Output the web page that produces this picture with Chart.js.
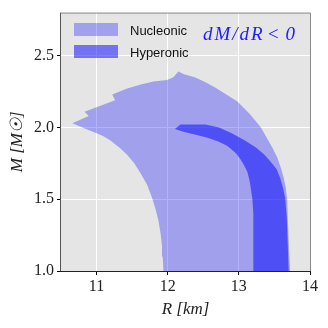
<!DOCTYPE html>
<html>
<head>
<meta charset="utf-8">
<script src="https://cdn.jsdelivr.net/npm/chart.js@4.4.1/dist/chart.umd.min.js"></script>
<style>
  html, body { margin: 0; padding: 0; background: #ffffff; }
  #wrap { position: relative; width: 328px; height: 328px; }
  canvas { position: absolute; left: 0; top: 0; }
  .sw { position: absolute; width: 44px; height: 13px; }
  .lt { position: absolute; font-family: "Liberation Sans", Arial, sans-serif; font-size: 13px; color: #111; line-height: 13px; }
  #ann { position: absolute; font-family: "Liberation Serif", serif; font-style: italic; font-size: 19px; color: #2020ff; line-height: 19px; white-space: pre; }
</style>
</head>
<body>
<div id="wrap">
  <canvas id="c" width="328" height="328"></canvas>
  <div class="sw" style="left:74px;top:23px;background:rgba(0,0,255,0.3)"></div>
  <div class="lt" style="left:130px;top:24px">Nucleonic</div>
  <div class="sw" style="left:74px;top:45px;background:rgba(0,0,255,0.5)"></div>
  <div class="lt" style="left:130px;top:46px">Hyperonic</div>
  <div id="ann" style="left:203px;top:24px"><span style="letter-spacing:2px">dM/dR</span><span style="margin-left:2px">&lt;</span><span style="margin-left:6px">0</span></div>
</div>
<script>
// ---- data ----
const xTicks = [11, 12, 13, 14];
const yTicks = [1.0, 1.5, 2.0, 2.5];

// Nucleonic band outline: inner edge (bottom -> tip), then outer edge (tip -> bottom right)
const nucleonicR = [11.94, 11.93, 11.92, 11.90, 11.87, 11.83, 11.78, 11.71, 11.62, 11.53,
                    11.43, 11.32, 11.19, 11.09, 11.00, 10.85, 10.66,
                    10.89, 10.83, 11.26, 11.22, 11.42, 11.62, 11.80, 11.99, 12.08, 12.15,
                    12.23, 12.38, 12.51, 12.66, 12.79, 12.98, 13.16, 13.31, 13.39, 13.47,
                    13.54, 13.59, 13.63, 13.66, 13.68, 13.69, 13.70, 13.72];
const nucleonicM = [1.00, 1.10, 1.17, 1.26, 1.35, 1.43, 1.51, 1.60, 1.68, 1.75,
                    1.81, 1.86, 1.91, 1.94, 1.96, 1.99, 2.03,
                    2.08, 2.11, 2.19, 2.23, 2.27, 2.30, 2.32, 2.33, 2.35, 2.39,
                    2.37, 2.35, 2.32, 2.28, 2.24, 2.18, 2.09, 2.00, 1.93, 1.86,
                    1.79, 1.72, 1.65, 1.58, 1.49, 1.35, 1.21, 1.00];

// Hyperonic band outline: top edge (tip -> bottom right), then inner edge (bottom -> tip)
const hyperonicR = [12.10, 12.18, 12.35, 12.53, 12.72, 12.90, 13.08, 13.24, 13.36, 13.45,
                    13.53, 13.58, 13.62, 13.65, 13.67, 13.68, 13.69, 13.70,
                    13.21, 13.21, 13.20, 13.20, 13.19, 13.17, 13.15, 13.12, 13.07, 13.02,
                    12.96, 12.84, 12.72, 12.55, 12.38, 12.22, 12.10];
const hyperonicM = [1.99, 2.02, 2.02, 2.02, 2.00, 1.96, 1.91, 1.86, 1.81, 1.76,
                    1.71, 1.65, 1.58, 1.51, 1.40, 1.30, 1.15, 1.00,
                    1.00, 1.15, 1.30, 1.40, 1.50, 1.57, 1.63, 1.69, 1.74, 1.78,
                    1.82, 1.87, 1.90, 1.93, 1.95, 1.97, 1.99];

const toPts = (xs, ys) => xs.map((x, i) => ({ x: x, y: ys[i] }));

const bgPlugin = {
  id: 'bg',
  beforeDraw(chart) {
    const { ctx, chartArea: a } = chart;
    ctx.save();
    ctx.fillStyle = '#e5e5e5';
    ctx.fillRect(a.left, a.top, a.right - a.left, a.bottom - a.top);
    ctx.restore();
  },
  afterDatasetsDraw(chart) {
    const { ctx, chartArea: a } = chart;
    ctx.save();
    ctx.lineWidth = 1;
    ctx.strokeStyle = '#8a8a8a';
    ctx.beginPath();
    ctx.moveTo(a.left, a.top + 0.5);
    ctx.lineTo(a.right + 0.5, a.top + 0.5);
    ctx.lineTo(a.right + 0.5, a.bottom);
    ctx.stroke();
    ctx.strokeStyle = '#555555';
    ctx.beginPath();
    ctx.moveTo(a.left - 0.5, a.top);
    ctx.lineTo(a.left - 0.5, a.bottom);
    ctx.stroke();
    ctx.strokeStyle = '#222222';
    ctx.beginPath();
    ctx.moveTo(a.left - 1, a.bottom + 0.5);
    ctx.lineTo(a.right + 1, a.bottom + 0.5);
    ctx.stroke();
    ctx.restore();
  }
};

new Chart(document.getElementById('c'), {
  type: 'scatter',
  data: {
    datasets: [
      {
        label: 'Nucleonic',
        data: toPts(nucleonicR, nucleonicM),
        showLine: true,
        fill: 'shape',
        backgroundColor: 'rgba(0,0,255,0.3)',
        borderWidth: 0,
        borderColor: 'rgba(0,0,0,0)',
        pointRadius: 0,
        tension: 0
      },
      {
        label: 'Hyperonic',
        data: toPts(hyperonicR, hyperonicM),
        showLine: true,
        fill: 'shape',
        backgroundColor: 'rgba(0,0,255,0.5)',
        borderWidth: 0,
        borderColor: 'rgba(0,0,0,0)',
        pointRadius: 0,
        tension: 0
      }
    ]
  },
  options: {
    responsive: false,
    animation: false,
    layout: { padding: { top: 10, right: 18, left: 0, bottom: 0 } },
    plugins: { legend: { display: false }, tooltip: { enabled: false } },
    scales: {
      x: {
        type: 'linear',
        min: 10.5,
        max: 14,
        afterFit(s) { s.height = 57; },
        afterBuildTicks(s) { s.ticks = xTicks.map(v => ({ value: v })); },
        border: { display: false },
        grid: { color: '#ffffff', lineWidth: 1, tickLength: 4, tickColor: '#000000', tickWidth: 1 },
        ticks: {
          color: '#222',
          padding: 2,
          maxRotation: 0,
          font: { family: 'Liberation Serif', size: 16 },
          callback: v => String(v)
        },
        title: {
          display: true,
          text: 'R [km]',
          color: '#222',
          font: { family: 'Liberation Serif', size: 17, style: 'italic' },
          padding: { top: 0, bottom: 8 }
        }
      },
      y: {
        type: 'linear',
        min: 1.0,
        max: 2.8,
        afterFit(s) { s.width = 61; },
        afterBuildTicks(s) { s.ticks = yTicks.map(v => ({ value: v })); },
        border: { display: false },
        grid: { color: '#ffffff', lineWidth: 1, tickLength: 4, tickColor: '#000000', tickWidth: 1 },
        ticks: {
          color: '#222',
          padding: 3,
          font: { family: 'Liberation Serif', size: 16 },
          callback: v => Number(v).toFixed(1)
        },
        title: {
          display: true,
          text: 'M [M☉]',
          color: '#222',
          font: { family: 'Liberation Serif', size: 17, style: 'italic' },
          padding: { top: 7, bottom: 0 }
        }
      }
    }
  },
  plugins: [bgPlugin]
});
</script>
</body>
</html>
